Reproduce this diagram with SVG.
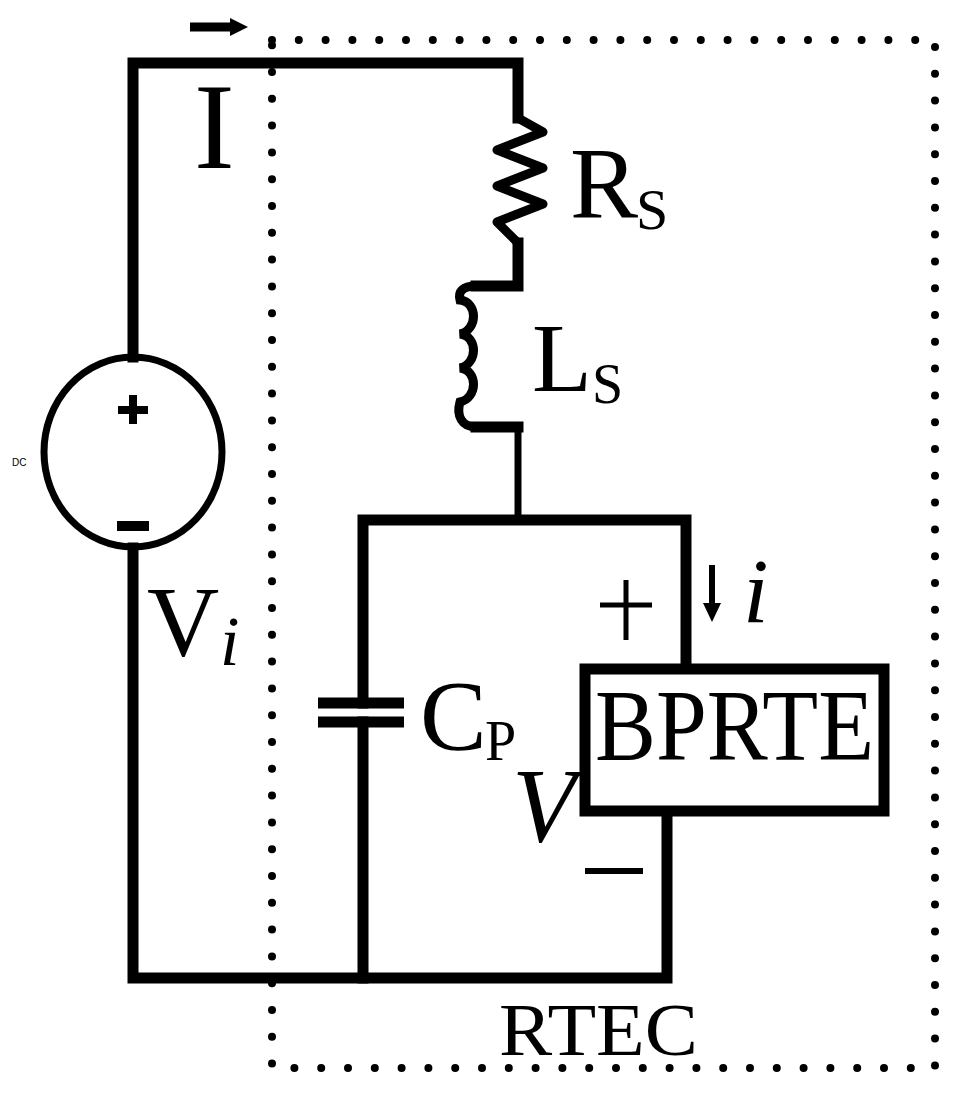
<svg xmlns="http://www.w3.org/2000/svg" width="953" height="1100" viewBox="0 0 953 1100">
<style>
.w{fill:none;stroke:#000;stroke-width:11;stroke-linecap:square;stroke-linejoin:miter}
text{font-family:'Liberation Serif','Times New Roman',serif;fill:#000}
.dot{fill:none;stroke:#000;stroke-width:8;stroke-linecap:round;stroke-dasharray:0 26.8}
</style>
<rect width="953" height="1100" fill="#fff"/>
<path class="dot" d="M272 40 H935 V1068 H272 Z"/>
<g id="connectors">
<path class="w" d="M133 357 V63 H518 V118"/>
<path class="w" d="M518 243 V286 H476"/>
<path class="w" d="M476 427 H518"/>
<path d="M518 427 V516" fill="none" stroke="#000" stroke-width="7"/>
<path class="w" d="M363 703 V520 H686 V664"/>
<path class="w" d="M363 722 V978"/>
<path class="w" d="M133 548 V978 H667 V815"/>
<path d="M190 27 H232" stroke="#000" stroke-width="9"/>
<path d="M230 18 L248 27 L230 36 Z"/>
<path d="M712 565 V605" stroke="#000" stroke-width="6"/>
<path d="M703 603 L712 622 L721 603 Z"/>
</g>
<g id="source">
<ellipse cx="133" cy="452" rx="89" ry="95" fill="none" stroke="#000" stroke-width="7"/>
<path d="M118 410 H148 M133 395 V424" stroke="#000" stroke-width="8"/>
<path d="M117 526 H149" stroke="#000" stroke-width="10"/>
<text x="12" y="466" font-size="10" fill="#555" style="font-family:'Liberation Sans',sans-serif">DC</text>
<text x="147" y="655" font-size="100">V</text>
<text x="220" y="665" font-size="70" font-style="italic">i</text>
</g>
<g id="resistor">
<path d="M518 118 L543 132 L497 150 L543 168 L497 186 L543 204 L497 222 L518 243" fill="none" stroke="#000" stroke-width="9" stroke-linejoin="round"/>
<text x="570" y="218" font-size="102">R</text>
<text x="636" y="229" font-size="58">S</text>
</g>
<g id="inductor">
<path d="M476 286 C462 286 458 292 460 300 C478 302 478 330 460 334 C478 336 478 364 460 368 C478 370 478 398 460 402 C456 416 462 427 476 427" fill="none" stroke="#000" stroke-width="9"/>
<text x="532" y="391" font-size="98">L</text>
<text x="592" y="403" font-size="56">S</text>
</g>
<g id="capacitor">
<path d="M318 703 H404 M318 722 H404" stroke="#000" stroke-width="11"/>
<text x="420" y="749" font-size="100">C</text>
<text x="485" y="760" font-size="56">P</text>
<text x="512" y="841" font-size="105" font-style="italic">V</text>
</g>
<g id="bprte">
<rect x="585" y="669" width="299" height="142" fill="none" stroke="#000" stroke-width="11"/>
<text x="595" y="760" font-size="102" textLength="279" lengthAdjust="spacingAndGlyphs">BPRTE</text>
<path d="M600 605 H652 M626 580 V640" stroke="#000" stroke-width="5"/>
<path d="M585 871 H643" stroke="#000" stroke-width="6"/>
<text x="743" y="622" font-size="92" font-style="italic">i</text>
</g>
<text x="499" y="1055" font-size="74" textLength="199" lengthAdjust="spacingAndGlyphs">RTEC</text>
<text x="194" y="168" font-size="122">I</text>
</svg>
